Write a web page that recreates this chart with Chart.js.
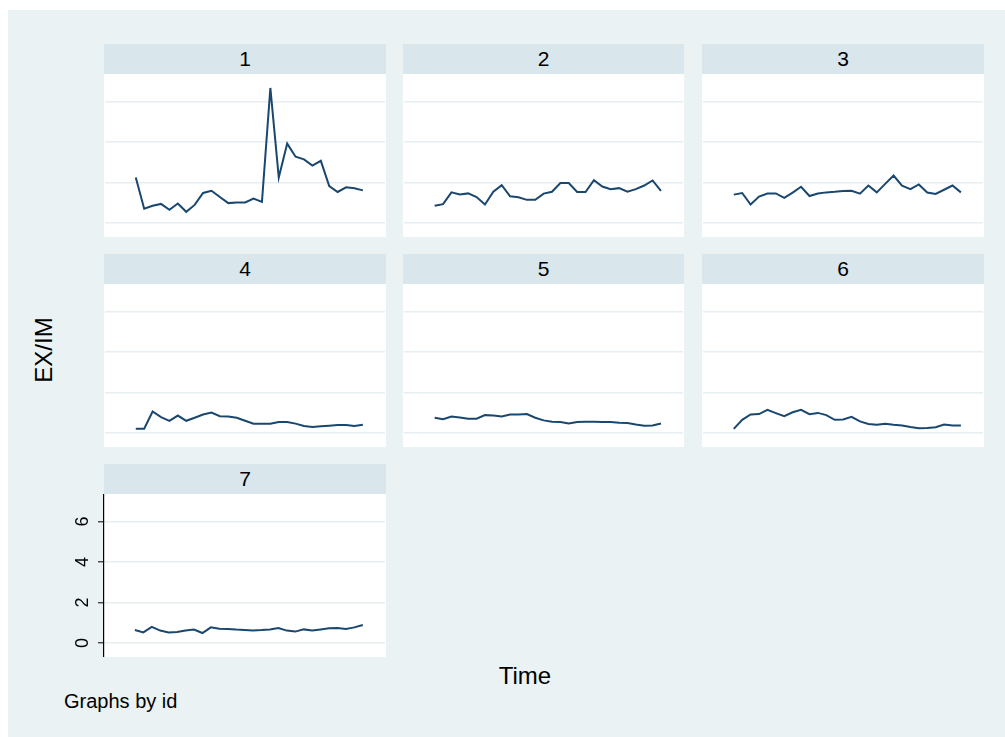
<!DOCTYPE html>
<html>
<head>
<meta charset="utf-8">
<script src="https://cdn.jsdelivr.net/npm/chart.js@4/dist/chart.umd.min.js"></script>
<style>
  html, body { margin: 0; padding: 0; background: #ffffff; }
  body { width: 1005px; height: 737px; position: relative; overflow: hidden; font-family: "Liberation Sans", Arial, sans-serif; }
  #bg { position: absolute; left: 8px; top: 10px; width: 997px; height: 727px; background: #eaf2f3; }
  .hdr { position: absolute; background: #d9e6eb; color: #000; font-size: 21px; text-align: center; }
  .white { position: absolute; background: #ffffff; }
  .plot { position: absolute; }
  .txt { position: absolute; color: #000; white-space: nowrap; }
</style>
</head>
<body>
<div id="bg"></div>
<div class="txt" style="left:-6px;top:336px;width:100px;height:28px;line-height:28px;text-align:center;font-size:24px;transform:rotate(-90deg);transform-origin:50px 14px;">EX/IM</div>
<div class="txt" style="left:465px;top:662px;width:120px;height:28px;line-height:28px;text-align:center;font-size:24px;">Time</div>
<div class="txt" style="left:64px;top:690px;font-size:20px;">Graphs by id</div>
<script>
// ---- data ----
const periods = [1,2,3,4,5,6,7,8,9,10,11,12,13,14,15,16,17,18,19,20,21,22,23,24,25,26,27,28];
const panelIds = ["1","2","3","4","5","6","7"];
const yTicks = [0, 2, 4, 6];
const id1 = [2.24,0.70,0.85,0.94,0.65,0.96,0.55,0.89,1.48,1.59,1.28,0.98,1.01,1.01,1.20,1.04,6.67,2.24,3.92,3.27,3.14,2.83,3.07,1.82,1.53,1.76,1.71,1.61];
const id2 = [0.85,0.93,1.51,1.41,1.46,1.28,0.91,1.54,1.87,1.32,1.27,1.14,1.14,1.45,1.54,1.97,1.97,1.53,1.53,2.11,1.80,1.67,1.72,1.54,1.67,1.85,2.10,1.58];
const id3 = [1.40,1.48,0.91,1.30,1.45,1.46,1.24,1.50,1.79,1.33,1.45,1.51,1.54,1.58,1.59,1.45,1.85,1.51,1.93,2.34,1.84,1.67,1.90,1.50,1.43,1.64,1.85,1.51];
const id4 = [0.21,0.21,1.06,0.78,0.60,0.86,0.60,0.75,0.91,1.01,0.83,0.81,0.75,0.60,0.46,0.46,0.46,0.54,0.54,0.46,0.34,0.29,0.33,0.36,0.39,0.39,0.34,0.41];
const id5 = [0.75,0.68,0.81,0.76,0.70,0.70,0.88,0.86,0.81,0.91,0.91,0.93,0.75,0.62,0.55,0.54,0.47,0.54,0.55,0.55,0.54,0.54,0.50,0.49,0.42,0.36,0.37,0.47];
const id6 = [0.20,0.65,0.91,0.93,1.14,0.98,0.83,1.02,1.14,0.93,0.99,0.88,0.65,0.67,0.80,0.57,0.44,0.41,0.46,0.41,0.37,0.29,0.23,0.24,0.28,0.42,0.37,0.37];
const id7 = [0.64,0.52,0.79,0.61,0.52,0.54,0.61,0.66,0.49,0.77,0.70,0.69,0.66,0.64,0.62,0.64,0.67,0.74,0.61,0.56,0.67,0.62,0.67,0.72,0.74,0.69,0.77,0.89];
const seriesList = [id1, id2, id3, id4, id5, id6, id7];

// ---- layout (panel boxes) ----
const boxes = [
  {l:104, r:386, t:44},
  {l:403, r:684, t:44},
  {l:702, r:984, t:44},
  {l:104, r:386, t:254},
  {l:403, r:684, t:254},
  {l:702, r:984, t:254},
  {l:104, r:386, t:464}
];
const HDR = 29.5, PLOT = 163.3;
const AXW = 50; // space for y axis on panel 7

panelIds.forEach((pid, i) => {
  const b = boxes[i];
  const hasAxis = (i === 6);
  const hdr = document.createElement('div');
  hdr.className = 'hdr';
  hdr.style.left = b.l + 'px'; hdr.style.top = b.t + 'px';
  hdr.style.width = (b.r - b.l) + 'px'; hdr.style.height = HDR + 'px'; hdr.style.lineHeight = (HDR + 1) + 'px';
  hdr.textContent = pid;
  document.body.appendChild(hdr);

  const wh = document.createElement('div');
  wh.className = 'white';
  wh.style.left = b.l + 'px'; wh.style.top = (b.t + HDR) + 'px';
  wh.style.width = (b.r - b.l) + 'px'; wh.style.height = PLOT + 'px';
  document.body.appendChild(wh);

  const wrap = document.createElement('div');
  wrap.className = 'plot';
  const left = hasAxis ? b.l - AXW : b.l;
  wrap.style.left = left + 'px'; wrap.style.top = (b.t + HDR) + 'px';
  wrap.style.width = (b.r - left) + 'px'; wrap.style.height = PLOT + 'px';
  const cv = document.createElement('canvas');
  wrap.appendChild(cv);
  document.body.appendChild(wrap);

  const pts = periods.map((p, k) => ({x: p, y: seriesList[i][k]}));
  new Chart(cv, {
    type: 'line',
    data: { datasets: [{ data: pts, borderColor: '#1a476f', borderWidth: 2, pointRadius: 0, tension: 0, fill: false }] },
    options: {
      responsive: true, maintainAspectRatio: false, animation: false,
      layout: { padding: 0 },
      plugins: { legend: { display: false }, tooltip: { enabled: false }, title: { display: false } },
      scales: {
        x: { type: 'linear', display: false, min: -2.66, max: 30.63 },
        y: {
          type: 'linear', min: -0.66, max: 7.31,
          afterBuildTicks: s => { s.ticks = yTicks.map(v => ({value: v})); },
          afterFit: s => { s.width = hasAxis ? AXW : 0; s.paddingTop = 0; s.paddingBottom = 0; },
          grid: { color: '#e6eef1', lineWidth: 1.6, drawTicks: hasAxis, tickLength: 6, tickColor: '#000', tickWidth: 1 },
          border: { display: hasAxis, color: '#000', width: 1.2 },
          ticks: {
            display: hasAxis, color: '#000', font: { family: '"Liberation Sans", Arial, sans-serif', size: 18 },
            minRotation: 90, maxRotation: 90, crossAlign: 'center', padding: 10
          }
        }
      }
    }
  });
});
</script>
</body>
</html>
